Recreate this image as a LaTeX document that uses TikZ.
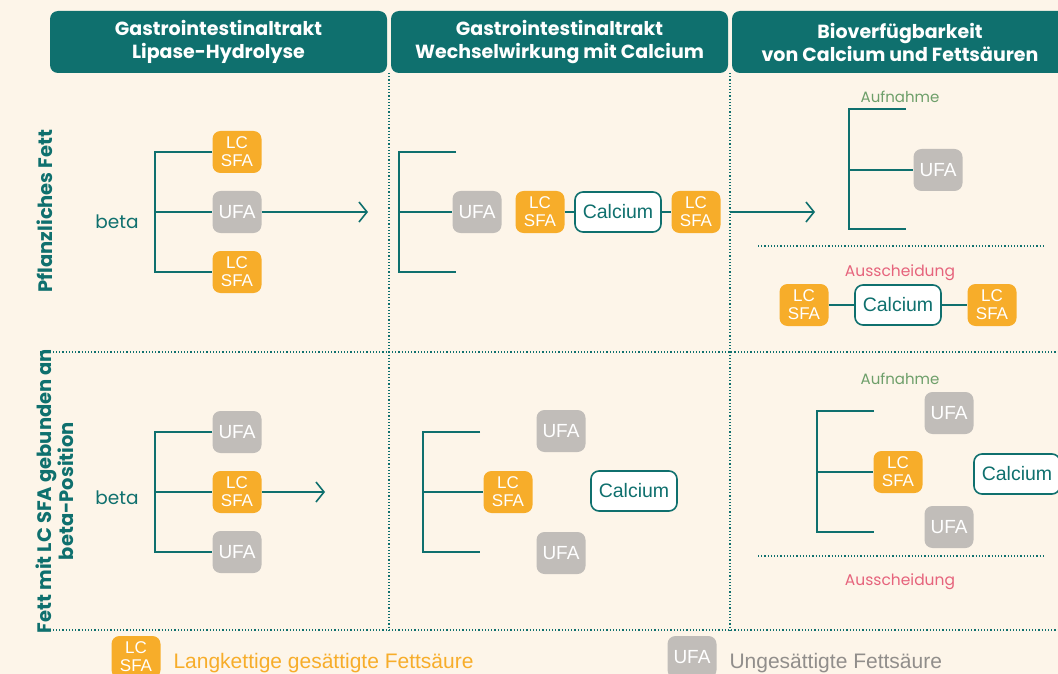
\documentclass[tikz,border=0pt]{standalone}
\usepackage{fontspec}
\setmainfont{Poppins}
\newfontfamily\boxfont{Liberation Sans}
\usetikzlibrary{arrows.meta}
\definecolor{bg}{HTML}{FDF5E9}
\definecolor{teal}{HTML}{0F706E}
\definecolor{orng}{HTML}{F7AD2A}
\definecolor{gry}{HTML}{C1BDB9}
\definecolor{grn}{HTML}{6E9F6A}
\definecolor{pnk}{HTML}{E6637C}
\tikzset{
  hdr/.style={fill=teal, rounded corners=8pt, minimum height=62pt, text=white, align=center,
    font=\fontsize{19}{23}\selectfont\bfseries, inner sep=0pt},
  lcbox/.style={fill=orng, rounded corners=8pt, minimum width=49pt, minimum height=42pt, inner sep=0pt,
    text=white, align=center, font=\boxfont\fontsize{17}{18}\selectfont},
  ufbox/.style={fill=gry, rounded corners=8pt, minimum width=49pt, minimum height=42pt, inner sep=0pt,
    text=white, align=center, font=\boxfont\fontsize{19}{19}\selectfont},
  cabox/.style={draw=teal, line width=1.6pt, fill=white, rounded corners=8pt, minimum width=86pt,
    minimum height=40pt, inner sep=0pt, text=teal, font=\boxfont\fontsize{19.5}{19.5}\selectfont},
  ln/.style={draw=teal, line width=1.6pt},
  arr/.style={ln, -{Straight Barb[length=8pt, width=20pt, line width=1.6pt]}},
  sep/.style={draw=teal, line width=1.2pt, dotted},
  betalbl/.style={text=teal, font=\fontsize{18.5}{18.5}\selectfont},
  rowlbl/.style={text=teal, font=\fontsize{19.5}{22}\selectfont\bfseries, rotate=90, align=center},
  uplbl/.style={text=grn, font=\fontsize{15}{15}\selectfont},
  downlbl/.style={text=pnk, font=\fontsize{15.5}{15.5}\selectfont},
}
\begin{document}
\begin{tikzpicture}[x=1pt, y=-1pt]
\path[fill=bg] (0,0) rectangle (1058,674);
\useasboundingbox (0,0) rectangle (1058,674);
\clip (0,0) rectangle (1058,674);

% headers
\node[hdr, minimum width=337pt] (h1) at (218.5,42) {Gastrointestinaltrakt\\Lipase-Hydrolyse};
\node[hdr, minimum width=337pt] (h2) at (559.5,42) {Gastrointestinaltrakt\\Wechselwirkung mit Calcium};
\node[hdr, minimum width=350pt] (h3) at (907,42) {};
\node[text=white, align=center, font=\fontsize{19}{23}\selectfont\bfseries, inner sep=0pt] (h3t) at (900,42) {Bioverfügbarkeit\\von Calcium und Fettsäuren};

% grid separators
\draw[sep] (389,73) -- (389,630);
\draw[sep] (730,73) -- (730,630);
\draw[sep] (40,352) -- (1058,352);
\draw[sep] (40,630) -- (1058,630);
\draw[sep] (758,246) -- (1043,246);
\draw[sep] (758,556) -- (1043,556);

% row labels
\node[rowlbl] (r1) at (45,211) {Pflanzliches Fett};
\node[rowlbl] (r2) at (55,491) {Fett mit LC SFA gebunden an\\beta-Position};

% ===== Row 1, col 1
\node[betalbl] (beta1) at (117,222) {beta};
\node[lcbox] (a1) at (237,152) {LC\\SFA};
\node[ufbox] (a2) at (237,212) {UFA};
\node[lcbox] (a3) at (237,272) {LC\\SFA};
\coordinate (a1c) at (155,152);
\coordinate (a2c) at (155,212);
\coordinate (a3c) at (155,272);
\coordinate (a4) at (368,212);
\draw[ln] (a1.west) -- (a1c) -- (a3c) -- (a3.west);
\draw[ln] (a2c) -- (a2.west);
\draw[arr] (a2.east) -- (a4);

% ===== Row 1, col 2
\coordinate (b1) at (456,152);
\coordinate (b1c) at (399,152);
\coordinate (b2c) at (399,212);
\coordinate (b3c) at (399,272);
\coordinate (b3) at (456,272);
\node[ufbox] (b2) at (477,212) {UFA};
\node[lcbox] (b4) at (540,212) {LC\\SFA};
\node[cabox] (b5) at (618,212) {Calcium};
\node[lcbox] (b6) at (696,212) {LC\\SFA};
\draw[ln] (b1) -- (b1c) -- (b3c) -- (b3);
\draw[ln] (b2c) -- (b2.west);
\draw[ln] (b4.east) -- (b5.west);
\draw[ln] (b5.east) -- (b6.west);
\coordinate (b7) at (730,212);
\coordinate (b8) at (815,212);
\draw[arr] (b7) -- (b8);

% ===== Row 1, col 3
\node[uplbl] (c0) at (900,97) {Aufnahme};
\coordinate (c1) at (906,109);
\coordinate (c1c) at (849,109);
\coordinate (c2c) at (849,170);
\coordinate (c3c) at (849,229);
\coordinate (c3) at (906,229);
\node[ufbox] (c2) at (938,170) {UFA};
\draw[ln] (c1) -- (c1c) -- (c3c) -- (c3);
\draw[ln] (c2c) -- (c2.west);
\node[downlbl] (c4) at (900,273) {Ausscheidung};
\node[lcbox] (c5) at (804,305) {LC\\SFA};
\node[cabox] (c6) at (898,305) {Calcium};
\node[lcbox] (c7) at (992,305) {LC\\SFA};
\draw[ln] (c5.east) -- (c6.west);
\draw[ln] (c6.east) -- (c7.west);

% ===== Row 2, col 1
\node[betalbl] (beta2) at (117,498) {beta};
\node[ufbox] (d1) at (237,432) {UFA};
\node[lcbox] (d2) at (237,492) {LC\\SFA};
\node[ufbox] (d3) at (237,552) {UFA};
\coordinate (d1c) at (155,432);
\coordinate (d2c) at (155,492);
\coordinate (d3c) at (155,552);
\coordinate (d4) at (325,492);
\draw[ln] (d1.west) -- (d1c) -- (d3c) -- (d3.west);
\draw[ln] (d2c) -- (d2.west);
\draw[arr] (d2.east) -- (d4);

% ===== Row 2, col 2
\coordinate (e1) at (480,432);
\coordinate (e1c) at (423,432);
\coordinate (e2c) at (423,492);
\coordinate (e3c) at (423,552);
\coordinate (e3) at (480,552);
\node[lcbox] (e2) at (508,492) {LC\\SFA};
\draw[ln] (e1) -- (e1c) -- (e3c) -- (e3);
\draw[ln] (e2c) -- (e2.west);
\node[ufbox] (e4) at (561,431) {UFA};
\node[ufbox] (e5) at (561,553) {UFA};
\node[cabox] (e6) at (634,491) {Calcium};

% ===== Row 2, col 3
\node[uplbl] (f0) at (900,379) {Aufnahme};
\coordinate (f1) at (874,411);
\coordinate (f1c) at (817,411);
\coordinate (f2c) at (817,472);
\coordinate (f3c) at (817,532);
\coordinate (f3) at (874,532);
\node[lcbox] (f2) at (898,472) {LC\\SFA};
\draw[ln] (f1) -- (f1c) -- (f3c) -- (f3);
\draw[ln] (f2c) -- (f2.west);
\node[ufbox] (f4) at (949,413) {UFA};
\node[ufbox] (f5) at (949,527) {UFA};
\node[cabox] (f6) at (1017,474) {Calcium};
\node[downlbl] (f7) at (900,582) {Ausscheidung};

% ===== Legend
\node[lcbox] (g1) at (136,657) {LC\\SFA};
\node[anchor=west, text=orng, font=\boxfont\fontsize{21}{21}\selectfont] (g2) at (170,663) {Langkettige gesättigte Fettsäure};
\node[ufbox] (g3) at (692,657) {UFA};
\node[anchor=west, text=gry!75!black, font=\boxfont\fontsize{21}{21}\selectfont] (g4) at (726,663) {Ungesättigte Fettsäure};
\end{tikzpicture}
\end{document}
